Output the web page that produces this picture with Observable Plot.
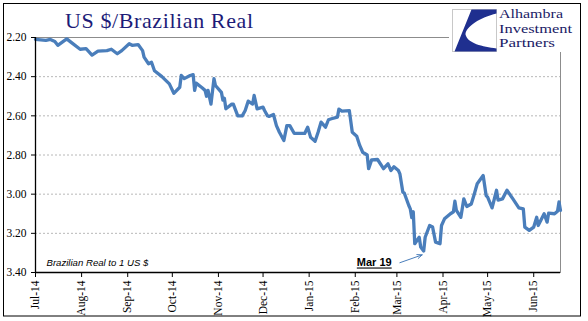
<!DOCTYPE html>
<html><head><meta charset="utf-8">
<script src="https://cdn.jsdelivr.net/npm/d3@7"></script>
<script src="https://cdn.jsdelivr.net/npm/@observablehq/plot@0.6"></script>
<style>
body{margin:0;background:#fff;}
#wrap{position:relative;width:588px;height:321px;overflow:hidden;background:#fff;}
#wrap > svg{position:absolute;left:0;top:0;}
</style></head><body><div id="wrap"></div>
<script>
const dates = ["2014-07-01","2014-07-08","2014-07-11","2014-07-14","2014-07-16","2014-07-22","2014-07-25","2014-07-31",
"2014-08-04","2014-08-08","2014-08-12","2014-08-18","2014-08-21","2014-08-25","2014-08-28",
"2014-09-02","2014-09-04","2014-09-08","2014-09-11","2014-09-12","2014-09-15","2014-09-17","2014-09-19","2014-09-24","2014-09-29",
"2014-10-02","2014-10-06","2014-10-07","2014-10-09","2014-10-13","2014-10-15","2014-10-16","2014-10-17","2014-10-21","2014-10-23","2014-10-24","2014-10-25","2014-10-27","2014-10-29","2014-10-30",
"2014-11-03","2014-11-04","2014-11-05","2014-11-06","2014-11-10","2014-11-11","2014-11-14","2014-11-17","2014-11-19","2014-11-21","2014-11-24","2014-11-25","2014-11-27",
"2014-12-01","2014-12-02","2014-12-04","2014-12-05","2014-12-08","2014-12-10","2014-12-12","2014-12-15","2014-12-17","2014-12-19","2014-12-22","2014-12-24","2014-12-29","2014-12-31",
"2015-01-02","2015-01-05","2015-01-07","2015-01-09","2015-01-12","2015-01-14","2015-01-16","2015-01-20","2015-01-21","2015-01-23","2015-01-28","2015-01-30",
"2015-02-02","2015-02-04","2015-02-06","2015-02-09","2015-02-10","2015-02-12","2015-02-16","2015-02-20","2015-02-23","2015-02-25","2015-02-27",
"2015-03-02","2015-03-03","2015-03-05","2015-03-06","2015-03-09","2015-03-10","2015-03-11","2015-03-12","2015-03-13","2015-03-16","2015-03-17","2015-03-19","2015-03-20","2015-03-23","2015-03-25","2015-03-27","2015-03-30","2015-03-31",
"2015-04-02","2015-04-06","2015-04-08","2015-04-09","2015-04-10","2015-04-13","2015-04-15","2015-04-17","2015-04-20","2015-04-22","2015-04-24","2015-04-28","2015-04-30",
"2015-05-01","2015-05-04","2015-05-07","2015-05-08","2015-05-11","2015-05-14","2015-05-18","2015-05-22","2015-05-25","2015-05-26","2015-05-29",
"2015-06-01","2015-06-03","2015-06-04","2015-06-08","2015-06-10","2015-06-11","2015-06-15","2015-06-17","2015-06-18","2015-06-19"];
const values = [2.21,2.215,2.21,2.22,2.24,2.207,2.225,2.26,
2.257,2.29,2.27,2.267,2.26,2.283,2.267,
2.232,2.24,2.236,2.267,2.30,2.334,2.326,2.37,2.40,2.437,
2.485,2.454,2.394,2.41,2.394,2.39,2.47,2.433,2.457,2.47,2.50,2.47,2.54,2.41,2.445,
2.48,2.52,2.51,2.564,2.54,2.54,2.60,2.60,2.573,2.525,2.54,2.496,2.564,
2.556,2.573,2.60,2.603,2.593,2.65,2.684,2.726,2.65,2.65,2.69,2.69,2.69,2.658,
2.709,2.73,2.684,2.632,2.658,2.62,2.615,2.607,2.566,2.576,2.573,2.684,
2.704,2.751,2.786,2.80,2.87,2.825,2.823,2.87,2.845,2.879,2.86,
2.879,2.896,2.99,2.995,3.058,3.075,3.12,3.09,3.253,3.22,3.27,3.29,3.22,3.16,3.168,3.245,3.253,3.16,
3.126,3.10,3.09,3.036,3.083,3.118,3.024,3.063,3.05,3.00,2.947,2.905,3.007,
3.015,3.07,2.98,3.03,3.024,2.98,3.024,3.07,3.075,3.168,3.185,
3.168,3.118,3.16,3.10,3.143,3.097,3.10,3.087,3.04,3.083];
const xDomain = ["2014-07-01","2015-06-19"];
const monthTicks = ["2014-07-01","2014-08-01","2014-09-01","2014-10-01","2014-11-01","2014-12-01","2015-01-01","2015-02-01","2015-03-01","2015-04-01","2015-05-01","2015-06-01"];
const yTicks = [2.2,2.4,2.6,2.8,3.0,3.2,3.4];
const gridTicks = [2.4,2.6,2.8,3.0,3.2];
const titleText = "US $/Brazilian Real";
const noteText = "Brazilian Real to 1 US $";
const logoLines = ["Alhambra","Investment","Partners"];
const callout = [{label:"Mar 19", date:"2015-03-19", value:3.29, fromDate:"2015-03-03", fromValue:3.35, toDate:"2015-03-18", toValue:3.31}];

const data = dates.map((d,i)=>({date:new Date(d), value:values[i]}));
const ann = callout.map(c=>({...c, date:new Date(c.date), fromDate:new Date(c.fromDate), toDate:new Date(c.toDate)}));
const lineColor = "#4a7ebb";

const chart = Plot.plot({
  width:588, height:321,
  marginLeft:35, marginRight:28, marginTop:37, marginBottom:49,
  style:{fontFamily:"'Liberation Serif', 'Times New Roman', serif", fontSize:"11.5px", color:"#000", background:"transparent"},
  x:{type:"utc", domain:xDomain.map(d=>new Date(d)), label:null},
  y:{domain:[yTicks[0], yTicks[yTicks.length-1]], reverse:true, label:null},
  marks:[
    Plot.ruleY(gridTicks,{stroke:"#a6a6a6", strokeDasharray:"2,2", strokeWidth:0.8}),
    Plot.frame({stroke:"#8c8c8c", strokeWidth:1}),
    Plot.line(data,{x:"date", y:"value", stroke:lineColor, strokeWidth:3.3, strokeLinejoin:"round", strokeLinecap:"round"}),
    Plot.axisY({ticks:yTicks, tickFormat:d3.format(".2f"), tickSize:4, tickPadding:5, stroke:"#000", fill:"#000", label:null}),
    Plot.axisX({ticks:monthTicks.map(d=>new Date(d)), tickFormat:d3.utcFormat("%b-%y"), tickRotate:-90, tickSize:5, tickPadding:3, stroke:"#000", fill:"#000", label:null}),
    Plot.ruleX([new Date(xDomain[0])],{stroke:"#000", strokeWidth:1.3}),
    Plot.ruleY([yTicks[yTicks.length-1]],{stroke:"#000", strokeWidth:1.3}),
    Plot.text([noteText],{frameAnchor:"bottom-left", dx:11, dy:-7, text:d=>d, textAnchor:"start", fontStyle:"italic", fontFamily:"'Liberation Sans', Arial, sans-serif", fontSize:9.6, fill:"#000"}),
    Plot.text(ann,{x:"date", y:"value", text:"label", dx:-32, dy:12, textAnchor:"end", fontWeight:"bold", fontFamily:"'Liberation Sans', Arial, sans-serif", fontSize:11, fill:"#000"}),
    Plot.arrow(ann,{x1:"fromDate", y1:"fromValue", x2:"toDate", y2:"toValue", stroke:lineColor, strokeWidth:1, headLength:8, headAngle:45})
  ]
});
d3.select(chart).selectAll("text").filter(function(){return this.textContent===callout[0].label;}).attr("text-decoration","underline");
document.getElementById("wrap").appendChild(chart);

// overlay: frame, title, logo
const ov = d3.select("#wrap").append("svg").attr("width",588).attr("height",321);
ov.append("rect").attr("x",3.5).attr("y",3.5).attr("width",577).attr("height",312.5).attr("fill","none").attr("stroke","#000");
ov.append("text").attr("x",65).attr("y",28).attr("textLength",188).attr("lengthAdjust","spacing")
  .style("font-family","'Liberation Serif', serif").style("font-size","22px").attr("fill","#1c1c78").text(titleText);
const lg = ov.append("g");
lg.append("rect").attr("x",449).attr("y",5).attr("width",128).attr("height",47).attr("fill","#fff");
const sq = lg.append("g").attr("transform","translate(452.5,9.5)");
sq.append("rect").attr("width",44).attr("height",42).attr("fill","#fff").attr("stroke","#c8c8c8").attr("stroke-width",1);
sq.append("path").attr("d","M19,0 L44,0 L44,4 C28,8 13,17 13,25 C15,34 30,37 44,39 L44,42 L2,42 Z").attr("fill","#1f2f8f");
const lens = [64,73,56];
logoLines.forEach((t,i)=>{
  lg.append("text").attr("x",499).attr("y",18+i*14.5).attr("textLength",lens[i]).attr("lengthAdjust","spacingAndGlyphs")
    .style("font-family","'Liberation Serif', serif").style("font-size","13px").attr("fill","#1a1a66").text(t);
});
</script></body></html>
